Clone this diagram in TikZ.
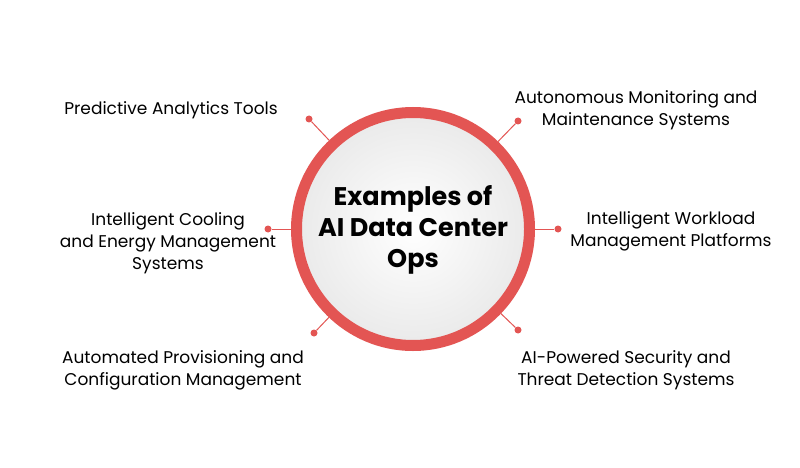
\documentclass[tikz,border=0pt]{standalone}
\usepackage{fontspec}
\setmainfont{Poppins}
\usetikzlibrary{calc}
\definecolor{ringred}{HTML}{E35553}
\begin{document}
\begin{tikzpicture}[x=1pt,y=-1pt,
  lbl/.style={align=center,font=\fontsize{17}{22}\selectfont,text=black},
  dot/.style={circle,fill=ringred,inner sep=0pt,minimum size=7pt},
  con/.style={draw=ringred,line width=1pt}]
\useasboundingbox (0,0) rectangle (800,468);
\fill[white] (0,0) rectangle (800,468);
\fill[black!10] (415,232) circle (117);
\shade[inner color=white,outer color=black!8] (413,229) circle (112);
\draw[ringred,line width=11pt] (413,229) circle (116.5);
\coordinate (c) at (413,229);
\node[font=\fontsize{25.5}{31}\selectfont\bfseries,align=center] (t) at (413,230) {Examples of\\AI Data Center\\Ops};
\foreach \n/\x/\y in {ul/309/119, ur/518/121, l/268/229, r/558/229, ll/314/333, lr/518/330}{
  \node[dot] (\n) at (\x,\y) {};
  \draw[con] ($(c)!122pt!(\n)$) -- (\n);
}
\node[lbl] (a) at (171,110) {Predictive Analytics Tools};
\node[lbl] (b) at (636,110) {Autonomous Monitoring and\\Maintenance Systems};
\node[lbl] (cc) at (168,243) {Intelligent Cooling\\and Energy Management\\Systems};
\node[lbl] (d) at (671,231) {Intelligent Workload\\Management Platforms};
\node[lbl] (e) at (183,370) {Automated Provisioning and\\Configuration Management};
\node[lbl] (f) at (626,370) {AI-Powered Security and\\Threat Detection Systems};
\end{tikzpicture}
\end{document}
